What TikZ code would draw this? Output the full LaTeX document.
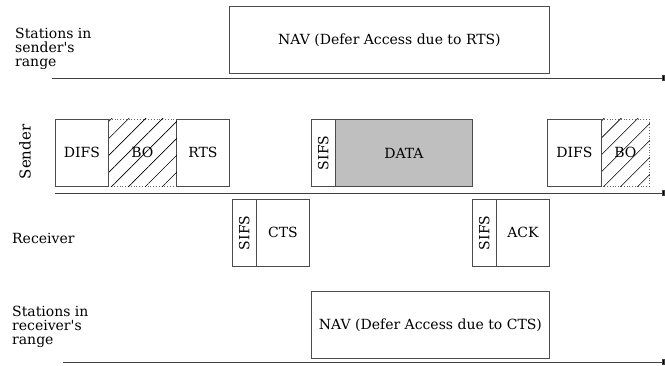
\documentclass[tikz,border=0pt]{standalone}
\usepackage{fontspec}
\setmainfont{DejaVu Serif}[Ligatures=TeXOff]
\usetikzlibrary{arrows.meta,patterns.meta}

\begin{document}
\begin{tikzpicture}[x=1pt,y=-1pt,
		box/.style={draw=black!70,line width=0.8pt,anchor=north west,inner sep=0pt,
			minimum height=67pt,font=\fontsize{14}{16}\selectfont},
		hatchbox/.style={box,draw=black!60,dotted},
		hatch/.style={pattern={Lines[angle=45,distance=12pt,line width=0.6pt]}},
		axis/.style={draw=black!75,line width=0.9pt,-{Square[length=3pt,width=6pt,fill=black]}},
		lbl/.style={font=\fontsize{14}{14}\selectfont,align=left,anchor=west,inner sep=0pt}]
		\useasboundingbox (0,0) rectangle (665,366);
		
		% Stations in sender's range
		\node[lbl] (sr) at (15,49) {Stations in\\sender's\\range};
		\node[box,minimum width=320pt] (navrts) at (229,6) {NAV (Defer Access due to RTS)};
		\coordinate (sr0) at (52,78);
		\coordinate (sr1) at (665,78);
		\draw[axis] (sr0) -- (sr1);
		
		% Sender
		\node[lbl,rotate=90,anchor=center,font=\fontsize{15}{17}\selectfont] (snd) at (25,152) {Sender};
		\node[box,minimum width=53pt] (difs1) at (55,119) {DIFS};
		\node[hatchbox,minimum width=68pt] (bo1) at (108,119) {BO};
		\node[box,minimum width=53pt] (rts) at (176,119) {RTS};
		\node[box,minimum width=24pt] (sifs1) at (311,119) {\rotatebox{90}{SIFS}};
		\node[box,minimum width=137pt,fill=black!25] (data) at (335,119) {DATA};
		\node[box,minimum width=54pt] (difs2) at (547,119) {DIFS};
		\node[hatchbox,minimum width=48pt] (bo2) at (601,119) {BO};
		% hatching over the back-off boxes
		\fill[hatch] (bo1.north west) rectangle (bo1.south east);
		\fill[hatch] (bo2.north west) rectangle (bo2.south east);
		\draw[black!70,line width=0.8pt] (bo1.north west) -- (bo1.south west);
		\draw[black!70,line width=0.8pt] (bo2.north west) -- (bo2.south west);
		\coordinate (sd0) at (55,193);
		\coordinate (sd1) at (665,193);
		\draw[axis] (sd0) -- (sd1);
		
		% Receiver
		\node[lbl] (rcv) at (12,238) {Receiver};
		\node[box,minimum width=24pt] (sifs2) at (232,199) {\rotatebox{90}{SIFS}};
		\node[box,minimum width=53pt] (cts) at (256,199) {CTS};
		\node[box,minimum width=24pt] (sifs3) at (472,199) {\rotatebox{90}{SIFS}};
		\node[box,minimum width=53pt] (ack) at (496,199) {ACK};
		
		% Stations in receiver's range
		\node[lbl] (rr) at (12,327) {Stations in\\receiver's\\range};
		\node[box,minimum width=238pt] (navcts) at (311,291) {NAV (Defer Access due to CTS)};
		\coordinate (rr0) at (63,362);
		\coordinate (rr1) at (665,362);
		\draw[axis] (rr0) -- (rr1);
	\end{tikzpicture}
\end{document}
